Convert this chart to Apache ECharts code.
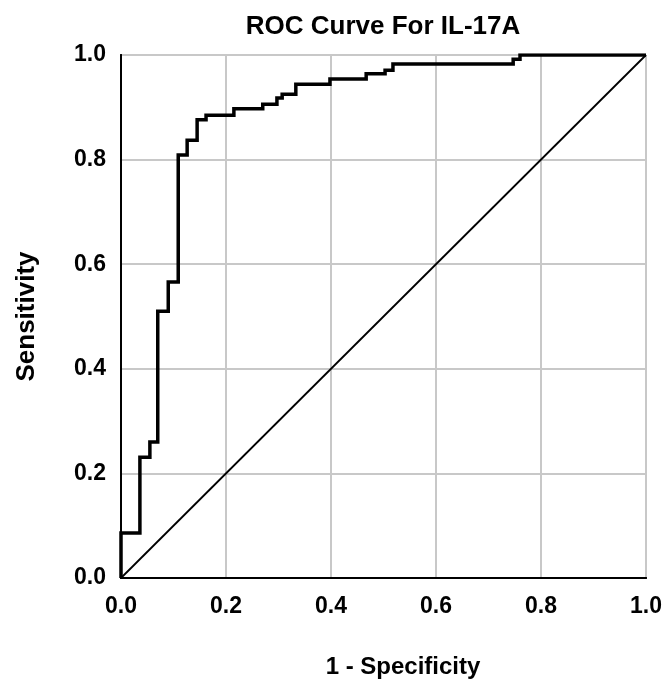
<!DOCTYPE html>
<html>
<head>
<meta charset="utf-8">
<script src="https://cdn.jsdelivr.net/npm/echarts@6/dist/echarts.min.js"></script>
<style>
  html, body { margin: 0; padding: 0; background: #fff; }
  #chart { width: 665px; height: 687px; }
</style>
</head>
<body>
<div id="chart"></div>
<script>
// stair-step ROC path vertices (1 - specificity, sensitivity)
const fpr = [0, 0, 0.036, 0.036, 0.055, 0.055, 0.07, 0.07, 0.09, 0.09, 0.109, 0.109,
  0.126, 0.126, 0.145, 0.145, 0.162, 0.162, 0.215, 0.215, 0.27, 0.27, 0.297, 0.297,
  0.307, 0.307, 0.333, 0.333, 0.398, 0.398, 0.467, 0.467, 0.503, 0.503, 0.518, 0.518,
  0.747, 0.747, 0.76, 0.76, 1.0];
const tpr = [0, 0.086, 0.086, 0.231, 0.231, 0.26, 0.26, 0.51, 0.51, 0.566, 0.566, 0.809,
  0.809, 0.837, 0.837, 0.876, 0.876, 0.885, 0.885, 0.897, 0.897, 0.906, 0.906, 0.918,
  0.918, 0.925, 0.925, 0.944, 0.944, 0.954, 0.954, 0.964, 0.964, 0.971, 0.971, 0.983,
  0.983, 0.992, 0.992, 1.0, 1.0];
const refLine = [[0, 0], [1, 1]];

const myChart = echarts.init(document.getElementById("chart"));
const fontFam = "Liberation Sans, Arial, sans-serif";
const boldText = (size) => ({ fontFamily: fontFam, fontWeight: "bold", fontSize: size, color: "#000" });

const curve = fpr.map((x, i) => [x, tpr[i]]);

// frame-only axes for the top and right edges
const frameAxis = {
  type: "value",
  min: 0,
  max: 1,
  axisLine: { show: true, lineStyle: { color: "#000", width: 2 } },
  axisTick: { show: false },
  axisLabel: { show: false },
  splitLine: { show: false },
};

const option = {
  animation: false,
  title: [
    { text: "ROC Curve For IL-17A", left: 378, top: 9, textAlign: "center", textStyle: boldText(26) },
    { text: "1 - Specificity", left: 398, top: 650, textAlign: "center", textStyle: boldText(24) },
  ],
  grid: {
    left: 121,
    top: 55,
    width: 525,
    height: 523,
    show: false,
    containLabel: false,
    outerBoundsMode: "none",
  },
  xAxis: [
    {
      type: "value",
      min: 0,
      max: 1,
      interval: 0.2,
      axisLine: { show: true, onZero: false, lineStyle: { color: "#000", width: 2 } },
      axisTick: { show: false },
      axisLabel: {
        margin: 17,
        ...boldText(23),
        formatter: (v) => v.toFixed(1),
      },
      splitLine: { show: true, lineStyle: { color: "#c8c8c8", width: 2 } },
    },
    { ...frameAxis, position: "top" },
  ],
  yAxis: [
    {
      type: "value",
      min: 0,
      max: 1,
      interval: 0.2,
      name: "Sensitivity",
      nameLocation: "middle",
      nameGap: 81,
      nameRotate: 90,
      nameTextStyle: boldText(26),
      axisLine: { show: true, onZero: false, lineStyle: { color: "#000", width: 2 } },
      axisTick: { show: false },
      axisLabel: {
        margin: 15,
        ...boldText(23),
        formatter: (v) => v.toFixed(1),
      },
      splitLine: { show: true, lineStyle: { color: "#c8c8c8", width: 2 } },
    },
    { ...frameAxis, position: "right" },
  ],
  series: [
    {
      name: "reference",
      type: "line",
      data: refLine,
      symbol: "none",
      lineStyle: { color: "#000", width: 1.8 },
    },
    {
      name: "roc",
      type: "line",
      data: curve,
      symbol: "none",
      lineStyle: { color: "#000", width: 3.5, join: "miter" },
    },
  ],
};
myChart.setOption(option);
</script>
</body>
</html>
